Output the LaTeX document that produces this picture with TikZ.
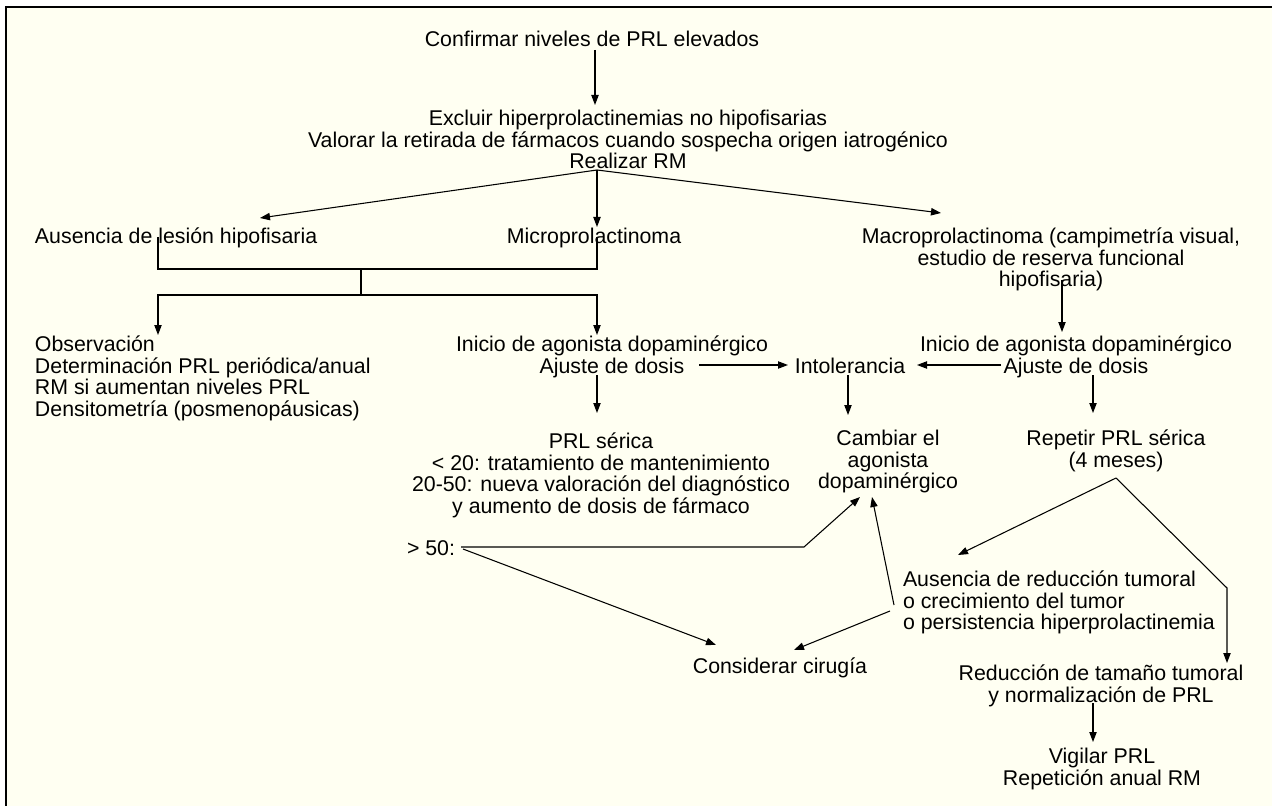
\documentclass[tikz,border=0pt]{standalone}
\usepackage{fontspec}
\setmainfont{Liberation Sans}
\usetikzlibrary{arrows.meta,calc}
\definecolor{cream}{RGB}{255,255,242}
\newcommand\diagfont{\fontsize{16pt}{16.2pt}\selectfont\lineskiplimit=-100pt\lineskip=0pt}
\begin{document}
\begin{tikzpicture}[x=0.75pt,y=-0.75pt,
  txt/.style={inner sep=0pt, outer sep=0pt, font=\diagfont, align=center},
  txtl/.style={inner sep=0pt, outer sep=0pt, font=\diagfont, align=left},
  link/.style={line width=0.8pt},
  arr/.style={link, -{Triangle[length=7.5pt,width=5.5pt]}}]
\useasboundingbox (0,0) rectangle (1272,806);
\fill[white] (0,0) rectangle (1272,806);
\fill[cream] (6,7) rectangle (1272,806);
\draw[line width=1.3pt] (6,806) -- (6,7) -- (1272,7);

% nodes
\node[txt, anchor=north] (conf) at (592,31) {\strut Confirmar niveles de PRL elevados};
\node[txt, anchor=north] (excl) at (628,110) {\strut Excluir hiperprolactinemias no hipofisarias\\Valorar la retirada de fármacos cuando sospecha origen iatrogénico\\Realizar RM};
\node[txtl, anchor=north west] (aus) at (35,228) {\strut Ausencia de lesión hipofisaria};
\node[txt, anchor=north] (micro) at (594,228) {\strut Microprolactinoma};
\node[txt, anchor=north] (macro) at (1051,228) {\strut Macroprolactinoma (campimetría visual,\\estudio de reserva funcional\\hipofisaria)};
\node[txtl, anchor=north west] (obs) at (35,336) {\strut Observación\\Determinación PRL periódica/anual\\RM si aumentan niveles PRL\\Densitometría (posmenopáusicas)};
\node[txt, anchor=north] (ini1) at (612,336) {\strut Inicio de agonista dopaminérgico\\Ajuste de dosis};
\node[txt, anchor=north] (intol) at (850,358) {\strut Intolerancia};
\node[txt, anchor=north] (ini2) at (1076,336) {\strut Inicio de agonista dopaminérgico\\Ajuste de dosis};
\node[txt, anchor=north] (prl) at (601,433) {\strut PRL sérica\\< 20: tratamiento de mantenimiento\\20-50: nueva valoración del diagnóstico\\y aumento de dosis de fármaco};
\node[txt, anchor=north] (camb) at (888,430) {\strut Cambiar el\\agonista\\dopaminérgico};
\node[txt, anchor=north] (rep) at (1116,430) {\strut Repetir PRL sérica\\(4 meses)};
\node[txtl, anchor=north west] (gt) at (407,540) {\strut > 50:};
\node[txtl, anchor=north west] (ausr) at (903,571) {\strut Ausencia de reducción tumoral\\o crecimiento del tumor\\o persistencia hiperprolactinemia};
\node[txt, anchor=north] (cons) at (780,658) {\strut Considerar cirugía};
\node[txt, anchor=north] (red) at (1101,665) {\strut Reducción de tamaño tumoral\\y normalización de PRL};
\node[txt, anchor=north] (vig) at (1102,748) {\strut Vigilar PRL\\Repetición anual RM};

% junction points
\coordinate (br) at ($(excl.north)+(-31,60)$);
\coordinate (bar1) at ($(aus.north west)+(326,41)$);
\coordinate (bar2) at ($(aus.north west)+(326,67)$);
\coordinate (apex) at ($(rep.north)+(0,48)$);

% connectors
\draw[arr] ($(conf.north)+(3,19)$) -- ($(excl.north)+(-33,-5)$);
\draw[arr] (br) -- ($(aus.north west)+(225,-10)$);
\draw[arr] (br) -- ($(micro.north)+(3,-1)$);
\draw[arr] (br) -- ($(macro.north)+(-110,-15)$);
\draw[link] ($(aus.north west)+(123,9)$) |- (bar1) -| ($(micro.north)+(3,9)$);
\draw[link] (bar1) -- (bar2);
\draw[arr] (bar2) -| ($(obs.north west)+(123,-1)$);
\draw[arr] (bar2) -| ($(ini1.north)+(-15,-1)$);
\draw[arr] ($(ini1.north)+(-15,39)$) -- ($(prl.north)+(-4,-20)$);
\draw[arr] ($(ini1.north)+(87,29)$) -- ($(intol.north)+(-62,7)$);
\draw[arr] ($(ini2.north)+(-75,29)$) -- ($(intol.north)+(67,7)$);
\draw[arr] ($(intol.north)+(-2,17)$) -- ($(camb.north)+(-40,-15)$);
\draw[arr] ($(macro.north)+(11,52)$) -- ($(ini2.north)+(-14,-4)$);
\draw[arr] ($(ini2.north)+(17,39)$) -- ($(rep.north)+(-23,-17)$);
\draw[arr] ($(gt.north west)+(54,7)$) -- ($(gt.north west)+(397,7)$) -- ($(camb.north)+(-28,67)$);
\draw[arr] ($(gt.north west)+(56,9)$) -- ($(cons.north)+(-64,-13)$);
\draw[arr] ($(ausr.north west)+(-9,34)$) -- ($(camb.north)+(-16,67)$);
\draw[arr] ($(ausr.north west)+(-13,40)$) -- ($(cons.north)+(14,-8)$);
\draw[arr] (apex) -- ($(ausr.north west)+(55,-16)$);
\draw[arr] (apex) -- ($(red.north)+(126,-77)$) -- ($(red.north)+(126,-2)$);
\draw[arr] ($(red.north)+(-8,38)$) -- ($(vig.north)+(-9,-6)$);
\end{tikzpicture}
\end{document}
